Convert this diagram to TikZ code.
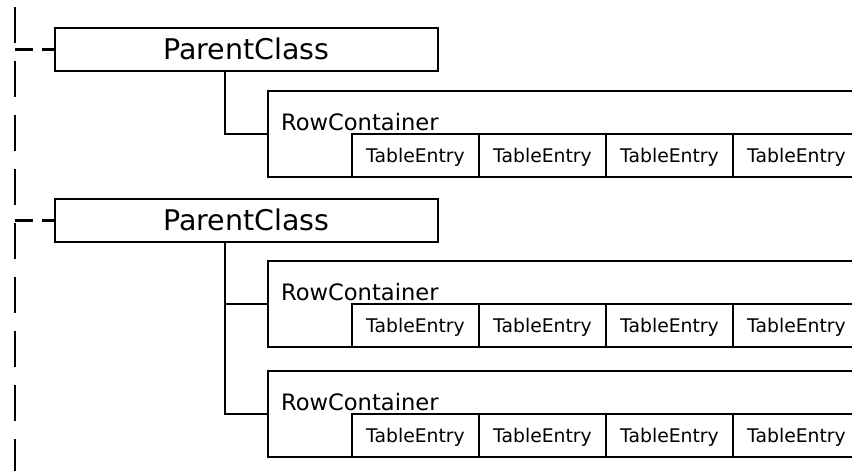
\documentclass[tikz,border=0pt]{standalone}
\usepackage{fontspec}
\setmainfont{DejaVu Sans}
\begin{document}
\begin{tikzpicture}[x=1pt,y=-1pt,
  line width=2.2pt,
  parentbox/.style={draw, rectangle, inner sep=0pt, minimum width=383pt,
    minimum height=43pt, font=\fontsize{28.5}{30}\selectfont,
    text height=20.8pt, text depth=0pt},
  rowbox/.style={draw, rectangle, inner sep=0pt, minimum width=592pt,
    minimum height=86pt},
  entrycell/.style={draw, rectangle, inner sep=0pt, minimum width=127pt,
    minimum height=43pt, font=\fontsize{18.8}{20}\selectfont,
    text height=13.7pt, text depth=0pt},
  rowlabel/.style={anchor=base west, inner sep=0pt,
    font=\fontsize{22.6}{24}\selectfont},
  spine/.style={dash pattern=on 36pt off 18pt},
  stub/.style={dash pattern=on 18pt off 9pt}]

  % page frame; the rows run past the right edge
  \clip (0,0) rectangle (852,471);

  % parent objects
  \node[parentbox] (p1) at (246.5,49.5) {ParentClass};
  \node[parentbox] (p2) at (246.5,220.5) {ParentClass};

  % row containers with their table entries
  \foreach \n/\t in {1/91, 2/261, 3/371} {
    \node[rowbox] (r\n) at (564,\t+43) {};
    \node[rowlabel] (r\n-lab) at (280,\t+39) {RowContainer};
    \foreach \k/\cx in {1/415.5, 2/542.5, 3/669.5, 4/796.5}
      \node[entrycell] (r\n-e\k) at (\cx,\t+64.5) {TableEntry};
  }

  % dashed spine on the left and the stubs into each parent
  \coordinate (spinetop) at (15,7);
  \coordinate (spinebot) at (15,475);
  \draw[spine] (spinetop) -- (spinebot);
  \draw[stub] (p1.west -| spinetop) -- (p1.west);
  \draw[stub] (p2.west -| spinetop) -- (p2.west);

  % parent-to-container connectors
  \path (p1.south west) ++(171,0) coordinate (s1);
  \path (p2.south west) ++(171,0) coordinate (s2);
  \draw (s1) |- (r1.west);
  \draw (s2) |- (r3.west);
  \draw (s2 |- r2.west) -- (r2.west);
\end{tikzpicture}
\end{document}
